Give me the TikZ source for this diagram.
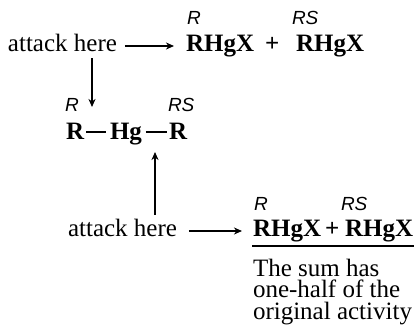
\documentclass[tikz,border=0pt]{standalone}
\usepackage{fontspec}
\setmainfont{Liberation Serif}
\newfontfamily\labfont{Liberation Sans}
\usetikzlibrary{arrows.meta}
\begin{document}
\begin{tikzpicture}[x=1pt,y=1pt,
  every node/.style={inner sep=0pt, outer sep=0pt, anchor=base west},
  txt/.style={font=\fontsize{25}{25}\selectfont},
  para/.style={font=\fontsize{25}{21.5}\selectfont, align=left, anchor=north west},
  chem/.style={font=\fontsize{25}{25}\selectfont\bfseries},
  lab/.style={font=\fontsize{19}{19}\selectfont\labfont\itshape},
  arr/.style={line width=1.5pt, -{Stealth[length=8pt,width=7pt,inset=2.5pt]}},
  bond/.style={line width=1.5pt}]
\useasboundingbox (0,0) rectangle (415,326);
% row 1
\node[txt]  (att1) at (8,274) {attack here};
\node[chem] (a1) at (186,274) {RHgX};
\node[chem] (p1) at (265,274) {+};
\node[chem] (a2) at (296,274) {RHgX};
\node[lab]  (l1) at (187,301) {R};
\node[lab]  (l2) at (292,301) {RS};
\draw[arr] ([xshift=8pt,yshift=6pt]att1.base east) -- ([xshift=-12pt,yshift=6pt]a1.base west);
% row 2
\coordinate (dn) at (92,219);
\draw[arr] ([yshift=-6pt]att1.south -| dn) -- (dn);
\node[lab]  (l3) at (65,214) {R};
\node[lab]  (l4) at (168,214) {RS};
\node[chem] (r1) at (66,186) {R};
\node[chem] (hg) at (110,186) {Hg};
\node[chem] (r2) at (169,186) {R};
\draw[bond] ([xshift=2pt,yshift=8pt]r1.base east) -- ([xshift=-4pt,yshift=8pt]hg.base west);
\draw[bond] ([xshift=4pt,yshift=8pt]hg.base east) -- ([xshift=-2pt,yshift=8pt]r2.base west);
% row 3
\node[txt]  (att2) at (68,89) {attack here};
\coordinate (up) at (155,174);
\draw[arr] ([yshift=5pt]att2.north -| up) -- (up);
\node[chem] (b1) at (253,89) {RHgX};
\node[chem] (p2) at (325,89) {+};
\node[chem] (b2) at (345,89) {RHgX};
\node[lab]  (l5) at (254,115) {R};
\node[lab]  (l6) at (341,115) {RS};
\draw[arr] ([xshift=12pt,yshift=6pt]att2.base east) -- ([xshift=-11pt,yshift=6pt]b1.base west);
\coordinate (ul) at (252,80);
\coordinate (ur) at (414,80);
\draw[line width=1.3pt] (ul) -- (ur);
\node[para] (sum) at (253,67) {The sum has\\one-half of the\\original activity};
\end{tikzpicture}
\end{document}
